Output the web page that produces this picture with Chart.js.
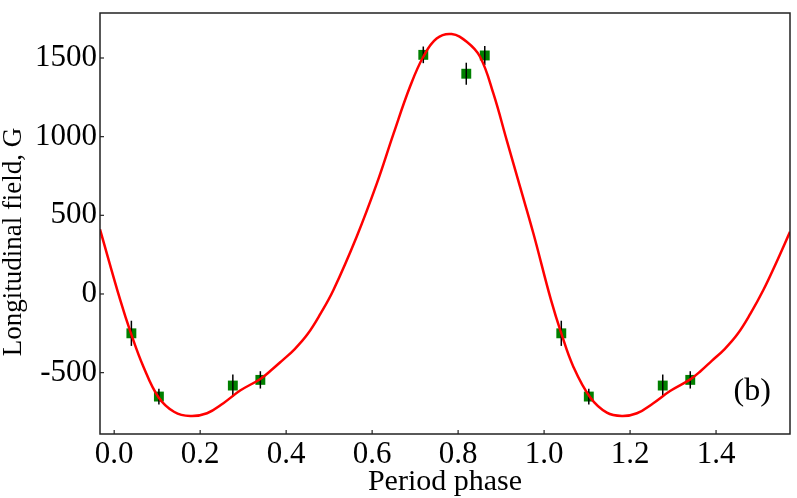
<!DOCTYPE html>
<html>
<head>
<meta charset="utf-8">
<script src="https://cdn.jsdelivr.net/npm/chart.js@4"></script>
<style>
  html, body { margin: 0; padding: 0; background: #fff; }
  #wrap { width: 797px; height: 498px; }
</style>
</head>
<body>
<div id="wrap"><canvas id="fieldChart"></canvas></div>
<script>
// measured points (phase, field in G, error bar half-length)
const obsPhase = [0.040, 0.104, 0.276, 0.340, 0.719, 0.819, 0.862, 1.040, 1.104, 1.276, 1.340];
const obsField = [-250, -652, -582, -546, 1520, 1400, 1516, -250, -652, -582, -546];
const obsError = [80, 50, 70, 55, 53, 70, 60, 80, 50, 70, 55];

// fitted curve
const curvePhase = [-0.033, 0.014, 0.039, 0.068, 0.103, 0.140, 0.177, 0.216, 0.254, 0.293, 0.340, 0.365, 0.390, 0.420, 0.450, 0.480, 0.510, 0.564, 0.611, 0.650, 0.688, 0.719, 0.750, 0.785, 0.820, 0.851, 0.882, 0.913, 0.944, 0.975, 1.016, 1.040, 1.068, 1.107, 1.146, 1.181, 1.216, 1.254, 1.293, 1.340, 1.365, 1.390, 1.420, 1.450, 1.480, 1.510, 1.540, 1.572];
const curveField = [411, -38, -250, -462, -656, -750, -775, -758, -694, -614, -540, -485, -425, -350, -255, -125, 25, 364, 703, 1021, 1317, 1508, 1624, 1652, 1603, 1508, 1275, 978, 682, 386, -38, -250, -462, -656, -754, -775, -758, -694, -617, -543, -488, -425, -350, -255, -125, 25, 199, 395];

const xTicks = [0.0, 0.2, 0.4, 0.6, 0.8, 1.0, 1.2, 1.4];
const yTicks = [-500, 0, 500, 1000, 1500];

const serif = "'Liberation Serif', 'DejaVu Serif', serif";

const toPoints = (xs, ys) => xs.map((x, i) => ({ x: x, y: ys[i] }));

// error bars drawn right after the squares
const errorBars = {
    id: "errorBars",
    afterDatasetDraw(chart, args) {
        if (args.index !== 1) return;
        const ctx = chart.ctx;
        const xs = chart.scales.x, ys = chart.scales.y;
        ctx.save();
        ctx.strokeStyle = "#000";
        ctx.lineWidth = 1.5;
        obsPhase.forEach((p, i) => {
            const px = xs.getPixelForValue(p);
            ctx.beginPath();
            ctx.moveTo(px, ys.getPixelForValue(obsField[i] - obsError[i]));
            ctx.lineTo(px, ys.getPixelForValue(obsField[i] + obsError[i]));
            ctx.stroke();
        });
        ctx.restore();
    }
};

// box frame, inward ticks, y title and the panel label
const frame = {
    id: "frame",
    afterDraw(chart) {
        const ctx = chart.ctx;
        const a = chart.chartArea;
        const xs = chart.scales.x, ys = chart.scales.y;
        ctx.save();
        ctx.strokeStyle = "#222";
        ctx.lineWidth = 1.5;
        ctx.strokeRect(a.left, a.top, a.right - a.left, a.bottom - a.top);
        ctx.lineWidth = 1.2;
        xTicks.forEach(t => {
            const px = xs.getPixelForValue(t);
            ctx.beginPath();
            ctx.moveTo(px, a.bottom);
            ctx.lineTo(px, a.bottom - 4);
            ctx.stroke();
        });
        yTicks.forEach(t => {
            const py = ys.getPixelForValue(t);
            ctx.beginPath();
            ctx.moveTo(a.left, py);
            ctx.lineTo(a.left + 4, py);
            ctx.stroke();
        });
        ctx.fillStyle = "#000";
        ctx.font = "32px " + serif;
        ctx.textAlign = "center";
        ctx.textBaseline = "middle";
        ctx.fillText("(b)", xs.getPixelForValue(1.484), ys.getPixelForValue(-623));

        ctx.font = "27px " + serif;
        ctx.textBaseline = "alphabetic";
        ctx.translate(21, 242);
        ctx.rotate(-Math.PI / 2);
        ctx.fillText("Longitudinal field, G", 0, 0);
        ctx.restore();
    }
};

const ctx = document.getElementById("fieldChart").getContext("2d");

new Chart(ctx, {
    type: "scatter",
    data: {
        datasets: [
            {
                label: "fit",
                data: toPoints(curvePhase, curveField),
                showLine: true,
                borderColor: "rgb(255, 0, 0)",
                borderWidth: 2.5,
                pointRadius: 0,
                tension: 0.4,
                order: 0,
            },
            {
                label: "observed",
                data: toPoints(obsPhase, obsField),
                pointStyle: "rect",
                pointRadius: 7,
                backgroundColor: "rgb(0, 128, 0)",
                borderColor: "rgb(0, 128, 0)",
                borderWidth: 0,
                order: 1,
            },
        ],
    },
    options: {
        responsive: true,
        maintainAspectRatio: false,
        animation: false,
        layout: { padding: { top: 13, right: 7, left: 0, bottom: 0 } },
        plugins: {
            legend: { display: false },
            tooltip: { enabled: false },
        },
        scales: {
            x: {
                type: "linear",
                min: -0.033,
                max: 1.572,
                afterFit: s => { s.height = 64; s.paddingLeft = 0; s.paddingRight = 0; },
                afterBuildTicks: s => { s.ticks = xTicks.map(v => ({ value: v })); },
                grid: { display: false, drawTicks: false },
                border: { display: false },
                ticks: {
                    padding: 2,
                    color: "#000",
                    font: { family: serif, size: 31 },
                    maxRotation: 0,
                    callback: v => v.toFixed(1),
                },
                title: {
                    display: true,
                    text: "Period phase",
                    color: "#000",
                    font: { family: serif, size: 30, lineHeight: 1 },
                    padding: { top: 0, bottom: 1 },
                },
            },
            y: {
                min: -890,
                max: 1786,
                afterFit: s => { s.width = 100; s.paddingTop = 0; s.paddingBottom = 0; },
                afterBuildTicks: s => { s.ticks = yTicks.map(v => ({ value: v })); },
                grid: { display: false, drawTicks: false },
                border: { display: false },
                ticks: {
                    padding: 3,
                    color: "#000",
                    font: { family: serif, size: 31 },
                    callback: v => String(v),
                },
            },
        },
    },
    plugins: [errorBars, frame],
});
</script>
</body>
</html>
